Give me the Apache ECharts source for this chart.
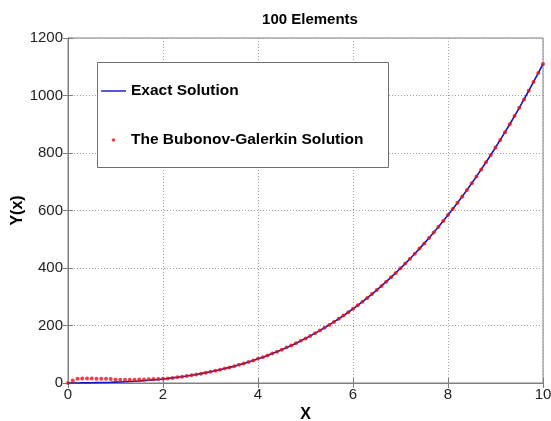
<!DOCTYPE html>
<html>
<head>
<meta charset="utf-8">
<script src="https://cdn.jsdelivr.net/npm/echarts@6/dist/echarts.min.js"></script>
<style>html,body{margin:0;padding:0;background:#fff}#c{width:551px;height:421px}</style>
</head>
<body>
<div id="c"></div>
<script>
var xValues = [0,0.1,0.2,0.3,0.4,0.5,0.6,0.7,0.8,0.9,1,1.1,1.2,1.3,1.4,1.5,1.6,1.7,1.8,1.9,2,2.1,2.2,2.3,2.4,2.5,2.6,2.7,2.8,2.9,3,3.1,3.2,3.3,3.4,3.5,3.6,3.7,3.8,3.9,4,4.1,4.2,4.3,4.4,4.5,4.6,4.7,4.8,4.9,5,5.1,5.2,5.3,5.4,5.5,5.6,5.7,5.8,5.9,6,6.1,6.2,6.3,6.4,6.5,6.6,6.7,6.8,6.9,7,7.1,7.2,7.3,7.4,7.5,7.6,7.7,7.8,7.9,8,8.1,8.2,8.3,8.4,8.5,8.6,8.7,8.8,8.9,9,9.1,9.2,9.3,9.4,9.5,9.6,9.7,9.8,9.9,10];
var exactValues = [0,0.1,0.2,0.4,0.6,0.9,1.2,1.5,2,2.4,3,3.6,4.4,5.2,6.1,7.1,8.3,9.5,10.9,12.4,14,15.8,17.7,19.8,22,24.4,26.9,29.7,32.6,35.7,39,42.5,46.2,50.1,54.3,58.6,63.2,68,73.1,78.4,84,89.8,95.9,102.3,108.9,115.9,123.1,130.6,138.4,146.6,155,163.8,172.8,182.3,192,202.1,212.6,223.4,234.6,246.1,258,270.3,283,296,309.5,323.4,337.7,352.4,367.5,383,399,415.4,432.3,449.6,467.4,485.6,504.3,523.5,543.2,563.3,584,605.2,626.8,649,671.7,694.9,718.6,742.9,767.7,793.1,819,845.5,872.5,900.1,928.3,957.1,986.5,1016.5,1047,1078.2,1110];
var galerkinValues = [0,9,15,15.5,15.5,15.5,15,15,14.5,14,12,11.5,11.5,11.5,11.5,12,12.5,13,13.5,14,14.5,15.8,17.7,19.8,22,24.4,26.9,29.7,32.6,35.7,39,42.5,46.2,50.1,54.3,58.6,63.2,68,73.1,78.4,84,89.8,95.9,102.3,108.9,115.9,123.1,130.6,138.4,146.6,155,163.8,172.8,182.3,192,202.1,212.6,223.4,234.6,246.1,258,270.3,283,296,309.5,323.4,337.7,352.4,367.5,383,399,415.4,432.3,449.6,467.4,485.6,504.3,523.5,543.2,563.3,584,605.2,626.8,649,671.7,694.9,718.6,742.9,767.7,793.1,819,845.5,872.5,900.1,928.3,957.1,986.5,1016.5,1047,1078.2,1110];
var xTicks = [0,2,4,6,8,10];
var yTicks = [0,200,400,600,800,1000,1200];
var seriesNames = ['Exact Solution','The Bubonov-Galerkin Solution'];
var titleText = '100 Elements';

var exactData = xValues.map(function(x,i){return [x, exactValues[i]];});
var galData = xValues.map(function(x,i){return [x, galerkinValues[i]];});

var FONT = '"Liberation Sans", Arial, sans-serif';
var axisGray = '#7f7f7f';
var chart = echarts.init(document.getElementById('c'), null, {renderer:'canvas'});
chart.setOption({
  animation:false,
  backgroundColor:'#ffffff',
  title:{text:titleText,left:305,top:7,textAlign:'center',
    textStyle:{fontFamily:FONT,fontSize:15,fontWeight:'bold',color:'#000'}},
  grid:{left:68,right:8,top:38,bottom:38,outerBoundsMode:'none',containLabel:false,
    show:true,borderColor:axisGray,borderWidth:1,backgroundColor:'#fff'},
  graphic:[{type:'rect',left:97,top:62,shape:{width:291,height:105},
    style:{fill:'#fff',stroke:'#6f6f6f',lineWidth:1},z:90,silent:true}],
  legend:{
    left:101,top:83,padding:0,orient:'vertical',itemGap:33,itemWidth:25,itemHeight:14,z:100,
    textStyle:{fontFamily:FONT,fontSize:15.5,fontWeight:'bold',color:'#000'},
    data:[
      {name:seriesNames[0],icon:'path://M0,0M25,14M0,6.3h25v1.4h-25z'},
      {name:seriesNames[1],icon:'path://M0,0M25,14M12.5,5.2a1.8,1.8 0 1,0 0.01,0z'}
    ]
  },
  xAxis:[{type:'value',min:0,max:10,interval:2,position:'bottom',
    name:'X',nameLocation:'middle',nameGap:24,nameMoveOverlap:false,
    nameTextStyle:{fontFamily:FONT,fontSize:16,fontWeight:'bold',color:'#000'},
    axisLine:{show:true,lineStyle:{color:axisGray}},
    axisTick:{show:true,inside:true,length:5,lineStyle:{color:axisGray}},
    axisLabel:{fontFamily:FONT,fontSize:15,color:'#222',margin:4},
    splitLine:{show:true,lineStyle:{color:'#a0a0a0',type:[1,2],width:1}}},
   {type:'value',min:0,max:10,interval:2,position:'top',
    axisLine:{show:true,lineStyle:{color:axisGray}},
    axisTick:{show:true,inside:true,length:5,lineStyle:{color:axisGray}},
    axisLabel:{show:false},splitLine:{show:false}}],
  yAxis:[{type:'value',min:0,max:1200,interval:200,position:'left',
    name:'Y(x)',nameLocation:'middle',nameGap:42,nameRotate:90,nameMoveOverlap:false,
    nameTextStyle:{fontFamily:FONT,fontSize:16,fontWeight:'bold',color:'#000'},
    axisLine:{show:true,lineStyle:{color:axisGray}},
    axisTick:{show:true,inside:true,length:5,lineStyle:{color:axisGray}},
    axisLabel:{fontFamily:FONT,fontSize:15,color:'#222',margin:5,
      formatter:function(v){return String(v);}},
    splitLine:{show:true,lineStyle:{color:'#a0a0a0',type:[1,2],width:1}}},
   {type:'value',min:0,max:1200,interval:200,position:'right',
    axisLine:{show:true,lineStyle:{color:axisGray}},
    axisTick:{show:true,inside:true,length:5,lineStyle:{color:axisGray}},
    axisLabel:{show:false},splitLine:{show:false}}],
  series:[
    {name:seriesNames[0],type:'line',xAxisIndex:0,yAxisIndex:0,data:exactData,
     symbol:'none',lineStyle:{color:'#1414c0',width:1.6},itemStyle:{color:'#1414c0'},z:2},
    {name:seriesNames[1],type:'scatter',xAxisIndex:0,yAxisIndex:0,data:galData,
     symbol:'circle',symbolSize:4,itemStyle:{color:'#e41414'},z:3}
  ]
});
</script>
</body>
</html>
